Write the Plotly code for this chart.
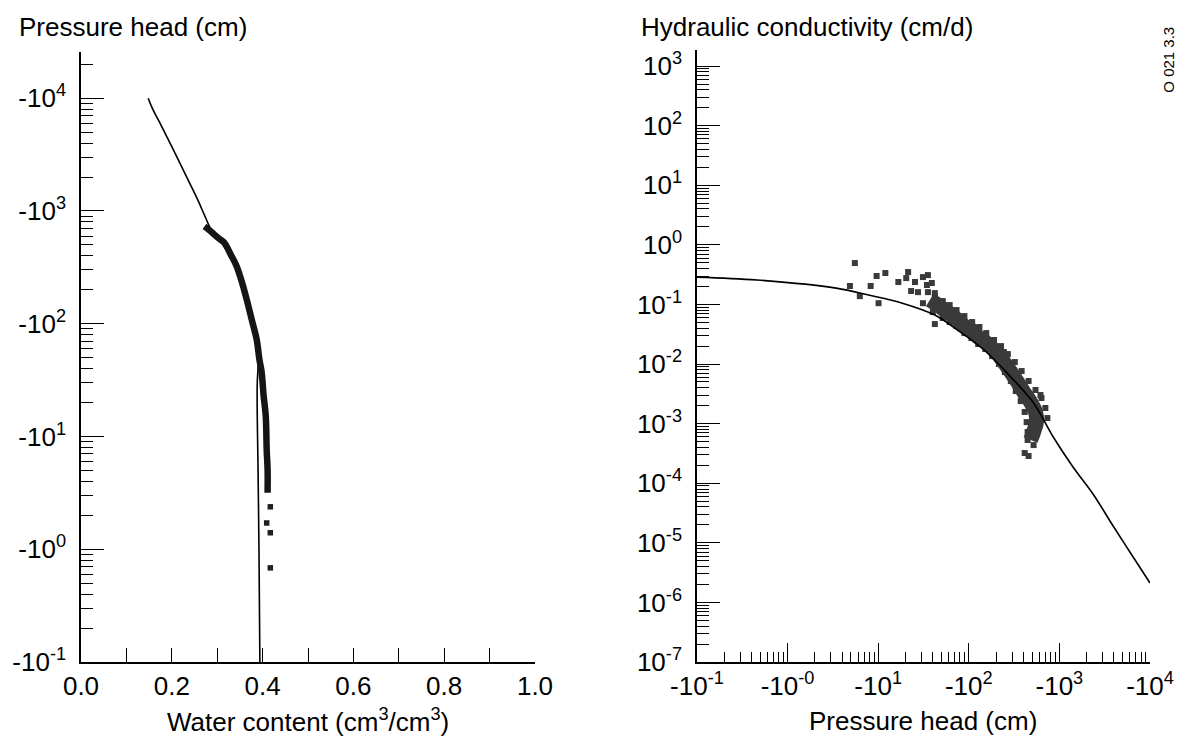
import plotly.graph_objects as go

# ---------------- Left panel: retention curve ----------------
# fitted curve: water content (cm3/cm3) vs |pressure head| (cm)
fit_theta = [0.148, 0.158, 0.170, 0.200, 0.228, 0.257, 0.274, 0.290, 0.315, 0.343, 0.365, 0.378, 0.390, 0.388, 0.390, 0.392, 0.394]
fit_h = [10000, 8000, 6460, 3720, 2190, 1260, 880, 650, 526, 322, 164, 109, 55, 27, 5, 1, 0.1]

# measured data band
obs_theta = [0.272, 0.283, 0.293, 0.304, 0.315, 0.330, 0.343, 0.355, 0.365, 0.376, 0.387, 0.393, 0.398, 0.402, 0.407, 0.409, 0.411, 0.411]
obs_h = [729, 675, 620, 570, 526, 410, 322, 230, 164, 109, 72.4, 48.1, 36.9, 23.5, 15.0, 7.64, 5.07, 3.17]
# isolated wet-end points
dot_theta = [0.417, 0.409, 0.417, 0.417]
dot_h = [2.38, 1.71, 1.40, 0.684]

# ---------------- Right panel: conductivity ----------------
kfit_h = [0.1, 0.461, 3.44, 7.85, 18.5, 42.2, 75.2, 148, 291, 519, 855, 1413, 2400, 3855, 6200, 10000]
kfit_k = [0.288, 0.257, 0.188, 0.144, 0.105, 0.0664, 0.0372, 0.0172, 0.00605, 0.00222, 0.000596, 0.000187, 6.3e-5, 1.99e-5, 6.5e-6, 2.12e-6]

# scattered measurements (dry-side outliers)
out_h = [5.53, 4.88, 6.27, 8.26, 9.61, 12.0, 10.1, 16.7, 20.4, 21.4, 25.5, 23.1, 27.5, 31.2, 34.5, 39.1, 31.2, 35.4, 42.2]
out_k = [0.495, 0.204, 0.138, 0.204, 0.300, 0.337, 0.105, 0.238, 0.277, 0.350, 0.238, 0.168, 0.161, 0.288, 0.212, 0.229, 0.105, 0.311, 0.155]

# dense band centre
band_h = [37.2, 45.5, 54.2, 64.7, 75.2, 89.5, 107, 124, 148, 176, 205, 244, 291, 339, 404, 481, 545, 558, 519, 481]
band_k = [0.119, 0.0977, 0.0805, 0.0664, 0.0547, 0.0434, 0.0372, 0.0295, 0.0243, 0.0193, 0.0153, 0.0108, 0.00734, 0.00519, 0.00339, 0.00230, 0.00157, 0.00106, 0.000723, 0.000531]

# band upper edge
up_h = [35.4, 42.2, 51.6, 61.5, 73.3, 89.5, 109, 131, 156, 190, 227, 270, 322, 383, 457, 545, 634, 700, 737, 618, 244]
up_k = [0.161, 0.133, 0.114, 0.0977, 0.0805, 0.0638, 0.0507, 0.0418, 0.0331, 0.0253, 0.0200, 0.0147, 0.0108, 0.00763, 0.00519, 0.00367, 0.00269, 0.00183, 0.00124, 0.00302, 0.0159]

# band lower edge
lo_h = [40.1, 42.2, 51.6, 61.5, 73.3, 89.5, 107, 127, 152, 181, 215, 250, 291, 330, 374, 414, 435, 446, 446, 519, 414, 457]
lo_k = [0.0745, 0.0469, 0.0592, 0.0507, 0.0434, 0.0331, 0.0273, 0.0217, 0.0179, 0.0136, 0.0100, 0.00734, 0.00519, 0.00352, 0.00239, 0.00157, 0.00106, 0.000723, 0.000531, 0.000437, 0.000321, 0.000286]

# tick labels
left_y_vals = [0.1, 1, 10, 100, 1000, 10000]
left_y_text = ["-10<sup>-1</sup>", "-10<sup>0</sup>", "-10<sup>1</sup>", "-10<sup>2</sup>", "-10<sup>3</sup>", "-10<sup>4</sup>"]
right_x_vals = [0.1, 1, 10, 100, 1000, 10000]
right_x_text = ["-10<sup>-1</sup>", "-10<sup>-0</sup>", "-10<sup>1</sup>", "-10<sup>2</sup>", "-10<sup>3</sup>", "-10<sup>4</sup>"]
right_y_vals = [1e-7, 1e-6, 1e-5, 1e-4, 1e-3, 1e-2, 1e-1, 1, 10, 100, 1000]
right_y_text = ["10<sup>-7</sup>", "10<sup>-6</sup>", "10<sup>-5</sup>", "10<sup>-4</sup>", "10<sup>-3</sup>", "10<sup>-2</sup>",
                "10<sup>-1</sup>", "10<sup>0</sup>", "10<sup>1</sup>", "10<sup>2</sup>", "10<sup>3</sup>"]

FONT = "Liberation Sans, Arial, sans-serif"
FS = 26
BLACK = "#000000"
DOT = "#3a3a3a"

fig = go.Figure()

# left panel traces
fig.add_trace(go.Scatter(x=fit_theta, y=fit_h, mode="lines", line=dict(color=BLACK, width=1.6, shape="spline", smoothing=1.2),
                         xaxis="x", yaxis="y", showlegend=False))
fig.add_trace(go.Scatter(x=obs_theta, y=obs_h, mode="lines", line=dict(color="#151515", width=6.5, shape="spline"),
                         xaxis="x", yaxis="y", showlegend=False))
fig.add_trace(go.Scatter(x=dot_theta, y=dot_h, mode="markers", marker=dict(color="#202020", size=5.5, symbol="square"),
                         xaxis="x", yaxis="y", showlegend=False))

# right panel traces
fig.add_trace(go.Scatter(x=band_h, y=band_k, mode="lines", line=dict(color=DOT, width=15, shape="spline"),
                         xaxis="x2", yaxis="y2", showlegend=False))
fig.add_trace(go.Scatter(x=up_h + lo_h + out_h, y=up_k + lo_k + out_k, mode="markers",
                         marker=dict(color=DOT, size=6, symbol="square"),
                         xaxis="x2", yaxis="y2", showlegend=False))
fig.add_trace(go.Scatter(x=kfit_h, y=kfit_k, mode="lines", line=dict(color=BLACK, width=1.6, shape="spline"),
                         xaxis="x2", yaxis="y2", showlegend=False))

minor_left_y = [m * 10 ** k for k in range(-1, 5) for m in range(2, 10)]
minor_right_x = [m * 10 ** k for k in range(-1, 4) for m in range(2, 10)]
minor_right_y = [m * 10.0 ** k for k in range(-7, 4) for m in range(2, 10)]

axis_common = dict(showline=True, linecolor=BLACK, linewidth=1.5, showgrid=False, zeroline=False,
                   ticks="inside", tickcolor=BLACK, tickwidth=1.3,
                   tickfont=dict(family=FONT, size=FS, color=BLACK))

fig.update_layout(
    width=1186, height=741,
    margin=dict(l=75, r=28, t=50, b=79),
    paper_bgcolor="white", plot_bgcolor="white",
    font=dict(family=FONT, size=FS, color=BLACK),
    xaxis=dict(domain=[0, 0.4247], range=[0, 1], tickmode="array",
               tickvals=[0.0, 0.2, 0.4, 0.6, 0.8, 1.0], ticktext=["0.0", "0.2", "0.4", "0.6", "0.8", "1.0"],
               ticklen=14, ticklabelstandoff=0,
               minor=dict(tickmode="array", tickvals=[0.1, 0.3, 0.5, 0.7, 0.9], ticks="inside",
                          ticklen=14, tickcolor=BLACK, tickwidth=1.3),
               anchor="y", **axis_common),
    yaxis=dict(domain=[0, 0.9967], type="log", range=[-1, 4.41], tickmode="array",
               tickvals=left_y_vals, ticktext=left_y_text, ticklen=23, ticklabelstandoff=8,
               minor=dict(tickmode="array", tickvals=minor_left_y, ticks="inside", ticklen=12,
                          tickcolor=BLACK, tickwidth=1.3),
               anchor="x", **axis_common),
    xaxis2=dict(domain=[0.5762, 1], type="log", range=[-1, 4], tickmode="array",
                tickvals=right_x_vals, ticktext=right_x_text, ticklen=19, ticklabelstandoff=0,
                minor=dict(tickmode="array", tickvals=minor_right_x, ticks="inside", ticklen=10,
                           tickcolor=BLACK, tickwidth=1.3),
                anchor="y2", **axis_common),
    yaxis2=dict(domain=[0, 1], type="log", range=[-7, 3.27], tickmode="array",
                tickvals=right_y_vals, ticktext=right_y_text, ticklen=23, ticklabelstandoff=8,
                minor=dict(tickmode="array", tickvals=minor_right_y, ticks="inside", ticklen=12,
                           tickcolor=BLACK, tickwidth=1.3),
                anchor="x2", **axis_common),
    annotations=[
        dict(text="Pressure head (cm)", xref="paper", yref="paper", x=-0.0600, y=1.0376,
             xanchor="left", yanchor="middle", showarrow=False, font=dict(family=FONT, size=FS, color=BLACK)),
        dict(text="Hydraulic conductivity (cm/d)", xref="paper", yref="paper", x=0.5217, y=1.0376,
             xanchor="left", yanchor="middle", showarrow=False, font=dict(family=FONT, size=FS, color=BLACK)),
        dict(text="Water content (cm<sup>3</sup>/cm<sup>3</sup>)", xref="paper", yref="paper", x=0.2124, y=-0.0960,
             xanchor="center", yanchor="middle", showarrow=False, font=dict(family=FONT, size=FS, color=BLACK)),
        dict(text="Pressure head (cm)", xref="paper", yref="paper", x=0.7881, y=-0.0960,
             xanchor="center", yanchor="middle", showarrow=False, font=dict(family=FONT, size=FS, color=BLACK)),
        dict(text="O 021 3.3", xref="paper", yref="paper", x=1.0175, y=0.9837, textangle=-90,
             xanchor="center", yanchor="middle", showarrow=False, font=dict(family=FONT, size=15, color=BLACK)),
    ],
)

fig.write_html("out.html")
